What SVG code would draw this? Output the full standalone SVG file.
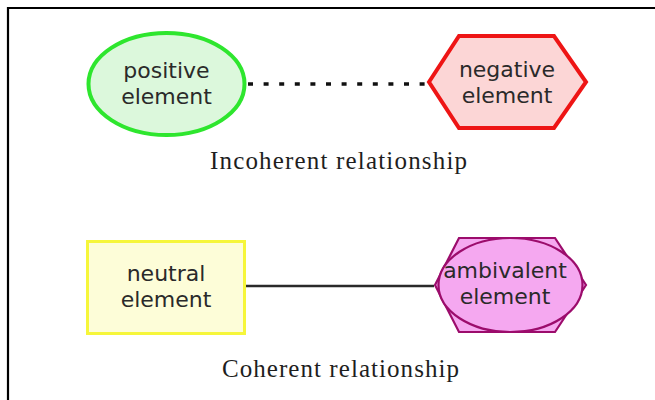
<svg xmlns="http://www.w3.org/2000/svg" width="655" height="400" viewBox="0 0 655 400">
<style>
.lbl{font-family:"DejaVu Sans","Verdana",sans-serif;fill:#2a2a2a;text-anchor:middle;font-size:22px}
.cap{font-family:"Liberation Serif","Times New Roman",serif;font-size:25px;fill:#1e1e1e;text-anchor:middle}
</style>
<rect width="655" height="400" fill="#ffffff"/>
<g id="frame">
<path d="M8 400 V8 H655" fill="none" stroke="#000" stroke-width="2.2"/>
</g>
<g id="connectors">
<line x1="248" y1="84" x2="427" y2="84" stroke="#111" stroke-width="3.5" stroke-dasharray="5 10.6"/>
<line x1="246" y1="286" x2="434" y2="286" stroke="#2a2a2a" stroke-width="2.5"/>
</g>
<g id="positive">
<ellipse cx="166.5" cy="84" rx="78" ry="51" fill="#dcf8dc" stroke="#2ee62e" stroke-width="4"/>
<text class="lbl" x="166.5" y="78">positive</text>
<text class="lbl" x="166.5" y="104">element</text>
</g>
<g id="negative">
<polygon points="429,82 459,36 554,36 586,82 554,128 459,128" fill="#fcd6d6" stroke="#ee1515" stroke-width="4"/>
<text class="lbl" x="507" y="77">negative</text>
<text class="lbl" x="507" y="103">element</text>
</g>
<g id="neutral">
<rect x="87.5" y="241.5" width="157" height="92" fill="#fdfdd8" stroke="#f6f63a" stroke-width="3"/>
<text class="lbl" x="166" y="281">neutral</text>
<text class="lbl" x="166" y="307">element</text>
</g>
<g id="ambivalent">
<polygon points="435,285 459,238 555,238 586,285 555,332 459,332" fill="#f5a8f0" stroke="#9c0c6c" stroke-width="2.2"/>
<ellipse cx="510.5" cy="285" rx="72" ry="47" fill="#f5a8f0" stroke="#9c0c6c" stroke-width="2.2"/>
<text class="lbl" x="505" y="278">ambivalent</text>
<text class="lbl" x="505" y="304">element</text>
</g>
<g id="captions">
<text class="cap" x="338.5" y="169" textLength="257" lengthAdjust="spacing">Incoherent relationship</text>
<text class="cap" x="340.5" y="377" textLength="237" lengthAdjust="spacing">Coherent relationship</text>
</g>
</svg>
